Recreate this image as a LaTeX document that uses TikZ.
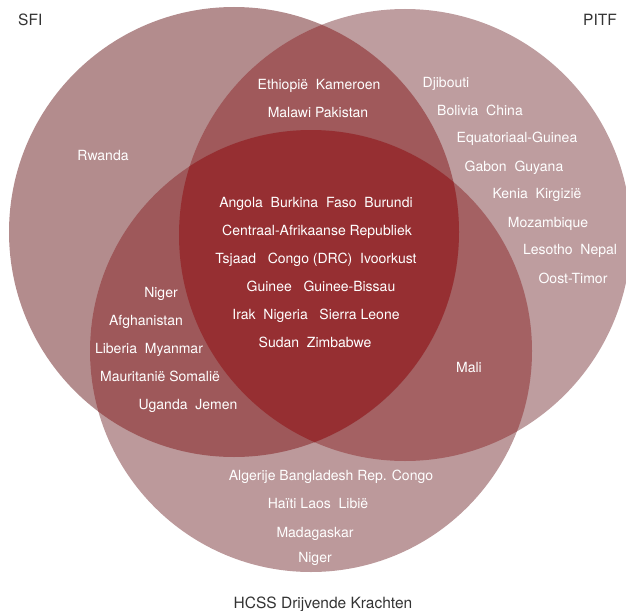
\documentclass[tikz,border=0pt]{standalone}
\usepackage{fontspec}
\setmainfont{TeX Gyre Heros}
\usepackage{xcolor}
\usepackage{tikz}

\definecolor{sfionly}{RGB}{179,140,141}
\definecolor{pitfonly}{RGB}{190,157,159}
\definecolor{hcssonly}{RGB}{188,153,155}
\definecolor{sfipitf}{RGB}{160,89,91}
\definecolor{sfihcss}{RGB}{158,88,90}
\definecolor{pitfhcss}{RGB}{164,97,99}
\definecolor{allthree}{RGB}{150,47,50}
\definecolor{labelgray}{RGB}{51,51,51}

\begin{document}
\begin{tikzpicture}[
    x=1pt, y=-1pt,
    country/.style={
        text=white,
        inner sep=0pt,
        anchor=base,
        font=\fontsize{14}{16}\selectfont
    },
    setname/.style={
        text=labelgray,
        inner sep=0pt,
        font=\fontsize{15.5}{18}\selectfont
    }
]
\useasboundingbox (0,0) rectangle (626,610);

\coordinate (sfi) at (234,232);
\coordinate (pitf) at (405,235);
\coordinate (hcss) at (311,351);

\fill[sfionly] (sfi) circle[radius=225pt];
\fill[pitfonly] (pitf) circle[radius=226pt];
\fill[hcssonly] (hcss) circle[radius=221pt];

\begin{scope}
\clip (pitf) circle[radius=226pt];
\fill[pitfhcss] (hcss) circle[radius=221pt];
\end{scope}

\begin{scope}
\clip (sfi) circle[radius=225pt];
\fill[sfipitf] (pitf) circle[radius=226pt];
\fill[sfihcss] (hcss) circle[radius=221pt];
\clip (pitf) circle[radius=226pt];
\fill[allthree] (hcss) circle[radius=221pt];
\end{scope}

\node[setname, anchor=base west] (sfilabel) at (18,26) {SFI};
\node[setname, anchor=base east] (pitflabel) at (617,26) {PITF};
\node[setname, anchor=base] (hcsslabel) at (323,608) {HCSS Drijvende Krachten};

\node[country] (rwanda) at (103,160) {Rwanda};

\node[country] (ethiopie) at (319,89) {Ethiopië~ Kameroen};
\node[country] (malawi) at (318,117) {Malawi Pakistan};

\node[country] (djibouti) at (446,87) {Djibouti};
\node[country] (bolivia) at (480,115) {Bolivia~ China};
\node[country] (equatoriaal) at (517,142) {Equatoriaal-Guinea};
\node[country] (gabon) at (514,171) {Gabon~ Guyana};
\node[country] (kenia) at (537,198) {Kenia~ Kirgizië};
\node[country] (mozambique) at (548,227) {Mozambique};
\node[country] (lesotho) at (570,254) {Lesotho~ Nepal};
\node[country] (oosttimor) at (573,283) {Oost-Timor};

\node[country] (angola) at (316,207) {Angola~ Burkina~ Faso~ Burundi};
\node[country] (centraal) at (317,235) {Centraal-Afrikaanse Republiek};
\node[country] (tsjaad) at (316,263) {Tsjaad~~ Congo (DRC)~ Ivoorkust};
\node[country] (guinee) at (321,291) {Guinee~~ Guinee-Bissau};
\node[country] (irak) at (316,319) {Irak~ Nigeria~~ Sierra Leone};
\node[country] (sudan) at (315,347) {Sudan~ Zimbabwe};

\node[country] (nigerwest) at (161,297) {Niger};
\node[country] (afghanistan) at (146,325) {Afghanistan};
\node[country] (liberia) at (149,353) {Liberia~ Myanmar};
\node[country] (mauritanie) at (160,381) {Mauritanië Somalië};
\node[country] (uganda) at (188,409) {Uganda~ Jemen};

\node[country] (mali) at (469,372) {Mali};

\node[country] (algerije) at (331,480) {Algerije Bangladesh Rep. Congo};
\node[country] (haiti) at (318,508) {Haïti Laos~ Libië};
\node[country] (madagaskar) at (315,537) {Madagaskar};
\node[country] (nigersouth) at (315,562) {Niger};

\end{tikzpicture}
\end{document}
